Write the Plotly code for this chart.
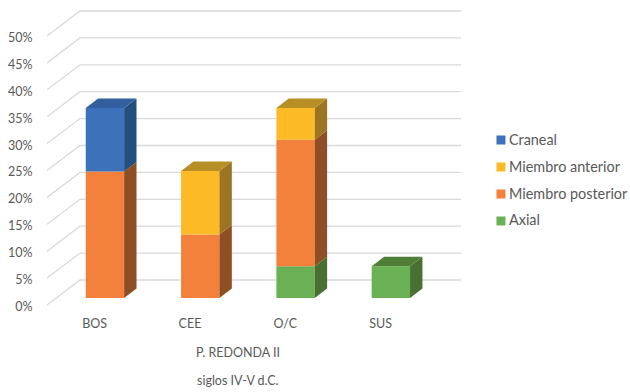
import plotly.graph_objects as go

categories = ["BOS", "CEE", "O/C", "SUS"]
axial = [0, 0, 5.9, 5.9]
miembro_posterior = [23.5, 11.8, 23.5, 0]
miembro_anterior = [0, 11.8, 5.9, 0]
craneal = [11.8, 0, 0, 0]
y_ticks = [0, 5, 10, 15, 20, 25, 30, 35, 40, 45, 50]

WIDTH, HEIGHT = 630, 392
PLOT_LEFT, PLOT_RIGHT, PLOT_TOP, PLOT_BOTTOM = 46.6, 461.0, 0.0, 312.0
ZERO_Y = 305.0  # page row of 0% on the front edge of the side wall
PX_PER_CAT = 95.4
PX_PER_PCT = 5.38

# Oblique projection: how far the back wall and the bar bodies recede
WALL_DX, WALL_DY = 33.0 / PX_PER_CAT, 25.0 / PX_PER_PCT
BAR_SHIFT_X, BAR_SHIFT_Y = 10.3 / PX_PER_CAT, 7.0 / PX_PER_PCT
BAR_DX, BAR_DY = 12.4 / PX_PER_CAT, 9.6 / PX_PER_PCT
BAR_W = 38.4 / PX_PER_CAT
LABEL_NUDGE = 1.6 / PX_PER_PCT  # tick text sits slightly below its gridline end

x_range = [-0.5, -0.5 + (PLOT_RIGHT - PLOT_LEFT) / PX_PER_CAT]
y_range = [(ZERO_Y - PLOT_BOTTOM) / PX_PER_PCT, (ZERO_Y - PLOT_TOP) / PX_PER_PCT]

# name, values, front colour, side colour, top colour (stacked bottom to top)
series = [
    ("Axial", axial, "#6ab155", "#497032", "#4f7f37"),
    ("Miembro posterior", miembro_posterior, "#f4813b", "#8f4f24", "#a85c28"),
    ("Miembro anterior", miembro_anterior, "#fdba27", "#9c7522", "#b88f24"),
    ("Craneal", craneal, "#3d72ba", "#234f7f", "#325f9e"),
]

fig = go.Figure()

# Empty carrier that keeps the labelled tick axes on the page
fig.add_trace(go.Scatter(
    x=[x_range[0]], y=[y_ticks[0]], mode="lines", line=dict(width=0),
    hoverinfo="skip", showlegend=False,
))

# Side wall and floor gridlines, each bending at the back corner
for v in y_ticks:
    fig.add_trace(go.Scatter(
        x=[x_range[0], x_range[0] + WALL_DX, x_range[1]],
        y=[v, v + WALL_DY, v + WALL_DY],
        mode="lines", line=dict(color="#d9d9d9", width=1.3),
        hoverinfo="skip", showlegend=False, cliponaxis=False, yaxis="y3",
    ))

positions = list(range(len(categories)))
base = [0.0] * len(categories)
top_owner = {}
for name, values, front, side, top in series:
    side_x, side_y = [], []
    for i, v in enumerate(values):
        if not v:
            continue
        right = i + BAR_W / 2
        b, t = base[i], base[i] + v
        side_x += [right, right + BAR_DX, right + BAR_DX, right, right, None]
        side_y += [b, b + BAR_DY, t + BAR_DY, t, b, None]
        top_owner[i] = (t, top)
    fig.add_trace(go.Scatter(
        x=side_x, y=side_y, mode="lines", fill="toself", fillcolor=side,
        line=dict(width=0), hoverinfo="skip", showlegend=False,
        xaxis="x2", yaxis="y2",
    ))
    fig.add_trace(go.Bar(
        x=positions, y=values, base=base, width=BAR_W, name=name,
        marker=dict(color=front, line=dict(width=0)),
        showlegend=False, xaxis="x2", yaxis="y2",
    ))
    base = [b + v for b, v in zip(base, values)]

# Top faces sit only on the highest segment of each stack
for i, (t, colour) in top_owner.items():
    left, right = i - BAR_W / 2, i + BAR_W / 2
    fig.add_trace(go.Scatter(
        x=[left, right, right + BAR_DX, left + BAR_DX, left],
        y=[t, t, t + BAR_DY, t + BAR_DY, t],
        mode="lines", fill="toself", fillcolor=colour, line=dict(width=0),
        hoverinfo="skip", showlegend=False, xaxis="x2", yaxis="y2",
    ))


def paper_x(px):
    return (px - PLOT_LEFT) / (PLOT_RIGHT - PLOT_LEFT)


def paper_y(px):
    return (PLOT_BOTTOM - px) / (PLOT_BOTTOM - PLOT_TOP)


TEXT = "#595959"
FONT = "Lato, sans-serif"

annotations = [
    dict(text="P. REDONDA II", x=paper_x(237.5), y=paper_y(352)),
    dict(text="siglos IV-V d.C.", x=paper_x(237.5), y=paper_y(380)),
]
for a in annotations:
    a.update(xref="paper", yref="paper", showarrow=False, yanchor="middle",
             xanchor="center", font=dict(family=FONT, size=12.5, color=TEXT))

# Key, listed from the top of the stack down
shapes = []
for row, (name, _, front, _, _) in enumerate(reversed(series)):
    cy = 140 + row * 27
    shapes.append(dict(type="rect", xref="paper", yref="paper", line=dict(width=0),
                       fillcolor=front, x0=paper_x(496.5), x1=paper_x(505.5),
                       y0=paper_y(cy + 4.5), y1=paper_y(cy - 4.5)))
    annotations.append(dict(
        text=name, xref="paper", yref="paper", x=paper_x(507), y=paper_y(cy - 1),
        xanchor="left", yanchor="middle", showarrow=False,
        font=dict(family=FONT, size=14.4, color=TEXT),
    ))

fig.update_layout(
    width=WIDTH, height=HEIGHT, showlegend=False, barmode="overlay",
    paper_bgcolor="white", plot_bgcolor="white",
    font=dict(family=FONT, size=12.5, color=TEXT),
    margin=dict(l=PLOT_LEFT, r=WIDTH - PLOT_RIGHT, t=PLOT_TOP, b=HEIGHT - PLOT_BOTTOM, pad=0),
    xaxis=dict(range=x_range, tickmode="array", tickvals=positions, ticktext=categories,
               showgrid=False, zeroline=False, showline=False,
               ticks="outside", ticklen=0, tickcolor="rgba(0,0,0,0)"),
    yaxis=dict(range=[r + LABEL_NUDGE for r in y_range], tickmode="array", tickvals=y_ticks,
               ticktext=[f"{v}%" for v in y_ticks],
               showgrid=False, zeroline=False, showline=False,
               ticks="outside", ticklen=11, tickcolor="rgba(0,0,0,0)"),
    xaxis2=dict(range=[r - BAR_SHIFT_X for r in x_range], overlaying="x", visible=False),
    yaxis2=dict(range=[r - BAR_SHIFT_Y for r in y_range], overlaying="y", visible=False),
    yaxis3=dict(range=y_range, overlaying="y", visible=False),
    annotations=annotations, shapes=shapes,
)

fig.write_html("out.html", config={"displayModeBar": False})
